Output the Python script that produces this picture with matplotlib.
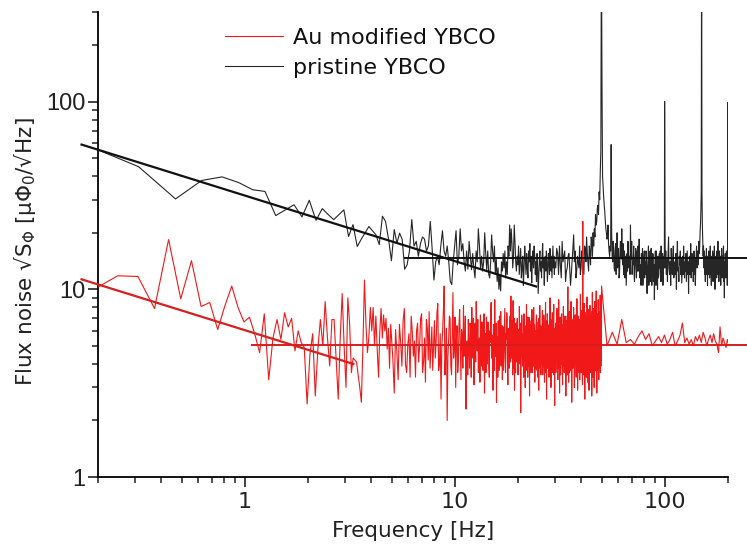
import numpy as np
import matplotlib
matplotlib.use("Agg")
import matplotlib.pyplot as plt
from matplotlib.ticker import LogLocator, NullFormatter, FixedLocator, FixedFormatter

# ---------------- data ----------------
# pristine YBCO: low span, grid 0.156 Hz starting at 0.156 Hz
black_b_step = 0.156
black_b_vals = [
    62, 45, 30.3, 38, 39.7, 37, 33.9, 33.2, 24.7, 26.5,
    28.2, 24.3, 29.8, 23.3, 26.9, 25.0, 23.5, 25.0, 26.5, 19.1,
    22.1, 16.9, 18.5, 20.0, 21.6, 20.5, 19.5, 17.3, 24.5, 23.0,
    18.5, 14.2, 20.8, 17.6, 19.9,
    18.5, 12.8, 13.5, 16, 23.5, 17, 18, 15, 17.5, 19,
    18.5, 16, 17, 23, 16.5, 11.2, 14, 15, 13.5, 17,
    20.5, 16, 15, 17, 14, 11, 10.6, 14, 17, 20.5,
    13.5, 15, 21, 16, 17.5, 14, 12.5, 16, 12.8, 18,
    15, 12.7, 15.5, 13, 11.5, 16, 14, 21, 17, 13,
    15, 12.5, 14, 20, 15.5, 12.7, 16, 12, 11.5, 14,
    19.5, 16, 14, 17, 12, 14.5, 11, 13, 10, 12,
    9.8, 14, 12.5, 15.5, 13, 16, 11.5, 14, 12, 17,
    15, 22, 16, 21, 17.5, 13, 15, 22, 18, 14,
    12.5, 15, 13.5, 17, 12, 14, 16.5, 11.5, 13, 15,
    10.5, 13, 17, 14.5, 12, 15.5, 13, 11.5, 16, 14,
    17.5, 12.5, 15, 10.8, 14, 16, 13, 17, 15, 12,
    14, 11, 15.5, 13, 9.5, 12, 14.5, 16, 12.5, 14,
    11.5, 15, 17.5, 13, 14.5, 10.5, 13.5, 15, 12.5, 16,
    14, 11, 13, 15.5, 14, 12, 16.5, 13.5, 12.5, 15,
    11.5, 14, 17, 13, 15, 12,
]
# pristine YBCO: high span, grid 0.624 Hz starting at 48*0.624 Hz
black_c_step = 0.624
black_c_start = 48
black_c_vals = [
    14, 16.5, 12, 13.5, 18, 15, 11, 13, 15.5, 10.5, 14, 19.5, 16, 12.5, 14, 17, 13,
    15, 12, 16.5, 19, 14, 17, 13.5, 18, 20,
    21, 25, 23, 28, 33, 42,
    800,
    40, 31, 26, 21, 18.5, 22, 16, 17,
    59,
    15, 18, 13, 16.5, 12, 20, 14, 11.5, 15, 17,
    21, 13.5, 12, 16, 14, 10.5, 15.5, 18, 13, 15,
    22, 14.5, 12, 13.5, 17, 11, 15, 13, 16, 12.5,
    14, 18.5, 11.5, 13, 15.5, 12, 10.5, 14, 16, 13,
    12, 15, 9.5, 13.5, 17, 11, 14, 12.5, 16.5, 10.5,
    13, 15, 11.5, 8.8, 14, 12, 16, 13.5, 10, 14.5,
    12, 15.5, 13, 11, 17, 12.5, 14, 10.5, 13, 15,
    100,
    13, 16, 12, 14.5, 11, 15, 19, 13, 12,
    14, 10.5, 16.5, 13, 12, 15, 17, 11.5, 13.5, 14,
    12, 15.5, 10, 14, 18, 12.5, 13, 11, 15, 13.5,
    16, 12, 14.5, 10.8, 13, 15, 12, 17, 13.5, 11.5,
    14, 12.5, 15.5, 11, 13, 16, 12, 14, 9.5, 13.5,
    15, 12, 14, 17.5, 11.5, 13, 15.5, 12.5, 14, 11,
    13.5, 16, 12, 14.5, 10.5, 13, 15, 17, 13, 14.5,
    16, 13.5, 15, 18, 15.5, 17, 20, 22, 26, 33,
    900,
    32, 22, 18, 15, 17, 13, 16, 12, 14.5,
    11, 15, 13, 16.5, 12, 14, 10.5, 15, 13.5, 12,
    16, 13, 11.5, 14.5, 17, 12, 13.5, 10.5, 15, 12.5,
    14, 16, 11, 13, 15.5, 12, 17, 13, 10, 14,
    12.5, 15, 13, 11.5, 16, 12, 14, 18, 12.5, 13.5,
    11, 14.5, 16, 12, 13, 15, 10.5, 14, 12, 16.5,
    13, 11.5, 15, 12.5, 14, 17, 11, 13.5, 9, 14,
    12, 15.5, 13, 11.5, 14, 16, 12.5, 13, 10.5, 14.5,
    99, 13,
]
# pristine YBCO: in-between bins of the high span (30-100 Hz)
black_c2_offset = 0.312
black_c2_vals = [
    13, 15.5, 17, 11.5, 14, 16, 12.5, 15, 13, 12, 16.5, 14, 11.5, 15, 13, 12, 16,
    13.5, 17, 14, 15.5, 12.5, 16, 19, 15, 17,
    19, 22, 27, 25, 30, 55,
    120,
    35, 28, 23, 20, 19, 17.5, 15, 16,
    20,
    14, 16, 12.5, 17.5, 14, 13, 16.5, 12, 18, 14.5,
    15, 17.5, 13, 11.5, 15, 13, 12.5, 16, 14.5, 12,
    15.5, 18, 13.5, 15, 12, 14, 16.5, 11.5, 14, 17,
    12.5, 15, 13.5, 10.5, 14, 16.5, 12, 15, 11.5, 14,
    16, 12.5, 13, 15, 10.5, 13.5, 16, 11, 14, 12.5,
    15.5, 11, 13.5, 12, 16, 10.5, 14, 12, 15, 11.5,
    14, 13, 16, 12, 14.5, 11, 15.5, 12.5, 14, 13,
]

# Au modified YBCO: low span, grid 0.0619 Hz starting at 0.186 Hz
red_a_start, red_a_step = 0.186, 0.0619
red_a_vals = [
    9.8, 11.8, 11.7, 7.9, 18.4, 8.9, 14.2, 8.1, 8.5, 6.1,
    8.2, 10.4, 8.0, 6.7, 7.1, 5.8, 4.6, 7.4, 3.3, 5.5,
    6.9, 5.4, 7.5, 6.3, 7.0, 4.7, 6.0, 5.2, 4.9, 2.45,
    4.5, 5.8, 2.7, 4.8, 6.9, 5.0, 8.6, 5.5, 3.9, 6.9,
    6.9, 4.2, 2.6, 5.5, 9.5, 5.0, 3.0, 9.0, 6.5, 3.6,
    4.3, 4.2, 4.1, 3.5, 3.0, 2.5, 5.0, 11.2, 6.5, 4.6,
    5.6, 8.0, 6.0, 8.0, 5.0, 7.2, 4.8, 3.4, 6.0, 7.9,
    5.5, 7.3, 6.0, 7.0, 4.8, 6.2, 3.8, 6.5,
]
# Au modified YBCO: mid span 5-50 Hz, grid 0.15 Hz
red_b_start, red_b_step = 5.0, 0.15
red_b_vals = [
    5.5, 2.8, 4.6, 6.5, 3.9, 7.9, 3.6, 5.8, 7.2, 4.4,
    3.4, 6.6, 5.0, 7.4, 4.1, 3.2, 6.2, 7.6, 4.8, 3.7,
    6.8, 5.2, 8.4, 4.0, 2.6, 6.0, 10.4, 4.5, 2.0, 5.4,
    7.0, 3.5, 9.6, 5.0, 3.0, 6.4, 4.2, 7.8, 3.3, 5.6,
    8.2, 4.6, 2.3, 5.3, 6.9, 3.8, 5.9, 8.0, 4.3, 3.1,
    6.6, 8.6, 4.7, 3.6, 5.5, 7.3, 3.9, 6.1, 4.5, 2.8,
    5.8, 7.1, 4.0, 6.4, 3.4, 5.2, 8.5, 4.6, 2.9, 6.0,
    8.8, 4.4, 2.5, 5.6, 6.8, 3.7, 5.1, 7.6, 4.2, 3.3,
    6.3, 4.8, 7.9, 3.6, 5.4, 6.9, 3.1, 5.9, 4.5, 7.2,
    9.2, 4.3, 6.1, 8.7, 3.8, 2.9, 5.5, 6.6, 4.1, 7.0,
    3.5, 5.7, 8.1, 4.6, 2.2, 4.9, 6.8, 3.9, 5.3, 7.4,
    4.2, 3.0, 6.2, 8.3, 4.8, 3.4, 5.9, 7.1, 2.7, 5.0,
    6.5, 4.1, 7.8, 3.6, 5.4, 8.0, 4.4, 3.2, 6.0, 5.1,
    7.3, 3.7, 4.9, 6.7, 2.9, 5.6, 8.2, 4.5, 3.5, 6.3,
    5.0, 7.7, 3.9, 4.6, 6.9, 3.2, 5.8, 8.5, 4.2, 2.6,
    5.3, 7.0, 4.0, 6.4, 3.4, 5.7, 9.0, 4.7, 3.0, 6.1,
    5.2, 7.5, 3.6, 4.8, 8.3, 4.3, 2.4, 5.9, 6.6, 3.8,
    5.5, 7.9, 4.1, 3.3, 6.2, 8.8, 4.6, 2.8, 5.4, 6.9,
    3.9, 5.1, 7.4, 4.4, 3.1, 6.5, 8.1, 4.8, 3.6, 5.8,
    7.2, 4.0, 2.7, 5.6, 6.8, 3.5, 5.0, 10.3, 4.3, 3.2,
    6.0, 7.6, 4.5, 3.7, 5.7, 8.6, 4.2, 2.5, 5.3, 6.7,
    3.8, 5.9, 8.0, 4.6, 3.0, 6.3, 7.3, 4.1, 5.2, 3.4,
    6.6, 8.9, 4.7, 2.9, 5.5, 7.0, 3.9, 6.2, 4.4, 3.3,
    5.8, 9.4, 4.2, 3.6, 6.4, 7.7, 4.9, 3.1, 23.0, 6.0,
    3.5, 5.3, 8.4, 4.5, 2.6, 6.1, 7.5, 4.0, 5.6, 3.4,
    6.8, 9.1, 4.6, 3.2, 5.4, 7.8, 4.3, 2.9, 6.5, 5.1,
    8.2, 4.1, 3.6, 6.0, 7.3, 4.8, 2.7, 5.7, 9.6, 4.4,
    3.4, 6.2, 7.9, 4.2, 3.0, 5.5, 8.6, 4.7, 3.7, 6.4,
    5.0, 9.8, 4.3, 2.8, 6.6, 7.4, 3.9, 5.2, 8.8, 4.5,
    3.3, 6.0, 7.6, 4.0, 5.4, 9.3, 3.6, 4.9, 7.1, 4.2,
]
# Au modified YBCO: in-between bins of the mid span (offset 0.075 Hz)
red_b2_offset = 0.075
red_b2_vals = [
    4.2, 6.1, 3.3, 5.2, 6.8, 4.0, 5.1, 3.4, 6.0, 5.3,
    6.0, 4.1, 7.0, 3.6, 5.5, 6.9, 4.2, 3.8, 6.3, 5.0,
    4.3, 7.5, 3.7, 5.8, 4.9, 7.7, 3.5, 6.2, 4.4, 7.2,
    3.9, 5.8, 4.3, 7.1, 5.3, 3.6, 6.5, 4.9, 6.1, 3.8,
    4.4, 7.2, 5.0, 3.5, 4.7, 6.6, 3.4, 5.1, 7.0, 5.6,
    4.1, 5.3, 6.9, 5.0, 3.2, 4.8, 6.7, 3.7, 7.4, 5.2,
    3.6, 4.9, 6.7, 3.9, 6.0, 7.3, 4.3, 5.7, 6.5, 3.7,
    4.5, 6.6, 5.2, 3.4, 4.5, 7.2, 4.0, 3.9, 6.4, 5.5,
    3.7, 6.2, 4.4, 5.8, 7.5, 4.0, 6.2, 3.8, 6.6, 4.1,
    5.0, 6.8, 3.5, 5.1, 7.0, 4.6, 3.6, 5.0, 6.6, 4.1,
    6.1, 4.0, 5.2, 6.6, 3.8, 7.3, 4.5, 5.8, 3.4, 5.1,
    6.4, 5.4, 3.7, 5.0, 7.1, 4.4, 3.9, 5.3, 6.8, 4.2,
    3.6, 6.2, 5.0, 7.2, 3.9, 4.6, 6.5, 5.6, 3.8, 7.0,
    4.5, 6.1, 3.4, 5.5, 7.0, 4.1, 3.8, 6.4, 5.4, 4.0,
    6.6, 3.5, 5.7, 7.3, 4.2, 6.0, 4.4, 3.6, 6.8, 5.0,
    7.4, 3.8, 5.5, 4.2, 6.5, 3.7, 5.1, 6.9, 4.3, 3.9,
    6.7, 4.1, 5.6, 7.0, 3.5, 5.9, 6.2, 4.0, 3.6, 6.4,
    4.2, 5.0, 6.8, 5.7, 3.8, 5.3, 6.6, 4.4, 7.1, 3.5,
    6.1, 7.3, 4.0, 5.6, 6.3, 3.9, 5.2, 7.0, 4.1, 6.6,
    4.5, 6.3, 5.1, 3.7, 4.6, 7.2, 6.0, 4.4, 5.5, 6.8,
    4.3, 3.6, 6.4, 5.9, 3.9, 5.0, 7.1, 4.6, 3.8, 5.2,
    6.9, 4.2, 3.9, 6.5, 5.4, 4.0, 5.6, 6.3, 3.7, 7.4,
    4.6, 5.3, 6.6, 4.1, 7.2, 4.3, 5.8, 3.6, 6.9, 5.5,
    4.0, 5.7, 6.7, 4.8, 3.8, 5.5, 6.6, 7.0, 5.0, 4.3,
    6.6, 4.4, 5.2, 7.0, 3.8, 4.5, 5.9, 6.8, 3.7, 7.1,
    4.2, 5.4, 7.1, 4.6, 6.8, 3.8, 5.9, 6.4, 4.0, 7.3,
    4.9, 6.5, 5.0, 3.9, 5.5, 7.6, 4.1, 6.3, 5.2, 6.0,
    5.6, 4.3, 5.3, 7.4, 6.1, 3.6, 5.0, 6.9, 4.6, 5.3,
    7.2, 4.8, 6.1, 5.3, 3.7, 5.6, 7.0, 4.2, 5.5, 6.7,
    5.4, 3.8, 5.2, 7.2, 4.1, 6.0, 5.8, 3.9, 6.3, 5.6,
]
# Au modified YBCO: high span 50-200 Hz, grid 3.1 Hz
red_c_start, red_c_step = 50.0, 3.1
red_c_vals = [
    10.4, 5.0, 5.9, 5.1, 6.9, 5.2, 5.4, 5.1, 5.6, 6.0,
    5.4, 5.8, 5.0, 5.3, 5.6, 5.2, 5.7, 5.1, 5.4, 5.9,
    5.0, 5.3, 5.7, 6.6, 5.2, 5.5, 5.1, 5.4, 5.0, 5.6,
    5.3, 5.7, 5.2, 5.9, 5.5, 5.0, 5.4, 5.7, 5.2, 5.8,
    5.3, 5.1, 4.6, 6.3, 5.0, 5.5, 5.2, 4.9, 5.4, 5.0,
]

# fit lines (frequency range, noise level at ends)
black_fit_f = [0.167, 24.4]
black_fit_v = [59.0, 10.35]
red_fit_f = [0.167, 3.29]
red_fit_v = [11.3, 4.0]
black_white_f = [5.8, 250]
black_white_v = [14.7, 14.7]
red_white_f = [1.08, 250]
red_white_v = [5.06, 5.06]

legend_labels = ["Au modified YBCO", "pristine YBCO"]
x_ticks = [1, 10, 100]
x_tick_labels = ["1", "10", "100"]
y_ticks = [1, 10, 100]
y_tick_labels = ["1", "10", "100"]

# ---------------- assemble series ----------------
bf = np.concatenate([
    black_b_step * (1 + np.arange(len(black_b_vals))),
    black_c_step * (black_c_start + np.arange(len(black_c_vals))),
    black_c_step * (black_c_start + np.arange(len(black_c2_vals))) + black_c2_offset,
])
bv = np.array(black_b_vals + black_c_vals + black_c2_vals, dtype=float)
o = np.argsort(bf, kind="stable")
black_f, black_v = bf[o], bv[o]

rf = np.concatenate([
    red_a_start + red_a_step * np.arange(len(red_a_vals)),
    red_b_start + red_b_step * np.arange(len(red_b_vals)),
    red_b_start + red_b_step * np.arange(len(red_b2_vals)) + red_b2_offset,
    red_c_start + red_c_step * np.arange(len(red_c_vals)),
])
rv = np.array(red_a_vals + red_b_vals + red_b2_vals + red_c_vals, dtype=float)
o = np.argsort(rf, kind="stable")
red_f, red_v = rf[o], rv[o]

# ---------------- figure ----------------
plt.rcParams["mathtext.fontset"] = "dejavusans"
fig = plt.figure(figsize=(7.47, 5.46), dpi=100)
ax = fig.add_axes([98 / 747, 69 / 546, 630 / 747, 465 / 546])

ax.plot(black_f, black_v, color="#262626", lw=0.8, label=legend_labels[1], zorder=2)
ax.plot(red_f, red_v, color="#f01818", lw=0.8, label=legend_labels[0], zorder=3)

ax.plot(black_fit_f, black_fit_v, color="#111111", lw=1.6, clip_on=False, zorder=4)
ax.plot(black_white_f, black_white_v, color="#111111", lw=1.4, clip_on=False, zorder=4)
ax.plot(red_fit_f, red_fit_v, color="#d81e1e", lw=1.6, clip_on=False, zorder=5)
ax.plot(red_white_f, red_white_v, color="#d81e1e", lw=1.4, clip_on=False, zorder=5)

ax.set_xscale("log")
ax.set_yscale("log")
ax.set_xlim(0.2, 200)
ax.set_ylim(1, 300)

for s in ("top", "right"):
    ax.spines[s].set_visible(False)
for s in ("left", "bottom"):
    ax.spines[s].set_linewidth(1.3)

ax.xaxis.set_major_locator(FixedLocator(x_ticks))
ax.xaxis.set_major_formatter(FixedFormatter(x_tick_labels))
ax.yaxis.set_major_locator(FixedLocator(y_ticks))
ax.yaxis.set_major_formatter(FixedFormatter(y_tick_labels))
ax.xaxis.set_minor_locator(LogLocator(base=10, subs=np.arange(2, 10), numticks=20))
ax.yaxis.set_minor_locator(LogLocator(base=10, subs=np.arange(2, 10), numticks=20))
ax.xaxis.set_minor_formatter(NullFormatter())
ax.yaxis.set_minor_formatter(NullFormatter())

ax.tick_params(axis="both", which="major", direction="out", length=7, width=1.2, color="#222222")
ax.tick_params(axis="both", which="minor", direction="out", length=4, width=1.1, color="#222222")
ax.tick_params(axis="x", which="major", pad=4)
ax.tick_params(axis="y", which="major", pad=2)

for lab in ax.get_xticklabels():
    lab.set_fontfamily("DejaVu Sans")
    lab.set_fontsize(16)
    lab.set_color("#222222")
for lab in ax.get_yticklabels():
    lab.set_fontfamily("Liberation Sans")
    lab.set_fontsize(17)
    lab.set_color("#222222")

ax.set_xlabel("Frequency [Hz]", fontsize=15.5, family="DejaVu Sans", color="#222222", labelpad=6)
ax.set_ylabel("Flux noise √$\\mathregular{S_\\Phi}$ [μ$\\mathregular{\\Phi_0}$/√Hz]",
              fontsize=15.5, family="DejaVu Sans", color="#222222", labelpad=6)
ax.yaxis.label.set_y(0.484)

handles, labels = ax.get_legend_handles_labels()
order = [1, 0]
leg = ax.legend([handles[i] for i in order], [labels[i] for i in order],
                loc="upper left", bbox_to_anchor=(225 / 747, 1 - 28 / 546),
                bbox_transform=fig.transFigure, frameon=False,
                handlelength=2.6, handletextpad=0.45, labelspacing=0.45,
                borderpad=0, borderaxespad=0, prop={"family": "DejaVu Sans", "size": 16})
for t in leg.get_texts():
    t.set_color("#111111")

fig.savefig("out.png", dpi=100)
